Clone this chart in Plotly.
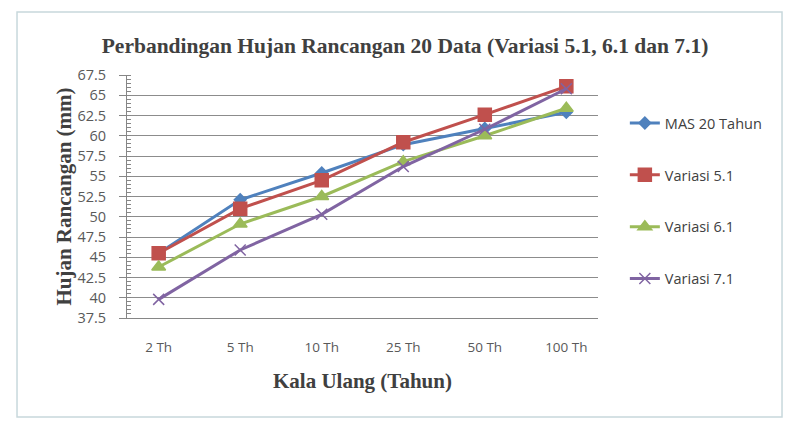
import plotly.graph_objects as go

categories = ["2 Th", "5 Th", "10 Th", "25 Th", "50 Th", "100 Th"]
mas_20 = [45.5, 52.1, 55.4, 58.9, 60.9, 62.9]
variasi_51 = [45.5, 51.0, 54.5, 59.2, 62.6, 66.1]
variasi_61 = [43.8, 49.1, 52.5, 56.8, 60.0, 63.4]
variasi_71 = [39.8, 45.9, 50.3, 56.2, 60.8, 65.8]
y_ticks = [37.5 + 2.5 * i for i in range(13)]

series = [
    ("MAS 20 Tahun", mas_20, "#4F81BD", "diamond", 9),
    ("Variasi 5.1", variasi_51, "#C0504D", "square", 13),
    ("Variasi 6.1", variasi_61, "#9BBB59", "triangle-up", 12),
    ("Variasi 7.1", variasi_71, "#8064A2", "x-thin-open", 11),
]

fig = go.Figure()
for name, vals, color, symbol, size in series:
    fig.add_trace(go.Scatter(
        x=categories, y=vals, name=name, mode="lines+markers",
        legendgroup=name,
        line=dict(color=color, width=3),
        marker=dict(symbol=symbol, size=size, color=color,
                    line=dict(color=color, width=1.5)),
    ))

serif = "Liberation Serif"
sans = "Open Sans"

fig.update_layout(
    width=785, height=421,
    margin=dict(l=127, r=187, t=75, b=103),
    paper_bgcolor="white", plot_bgcolor="white",
    title=dict(text="<b>Perbandingan Hujan Rancangan 20 Data (Variasi 5.1, 6.1 dan 7.1)</b>",
               x=0.516, xanchor="center", y=0.893, yanchor="middle",
               font=dict(family=serif, size=21.5, color="#404040")),
    legend=dict(x=1.057, y=0.868, xanchor="left", yanchor="top",
                font=dict(family=sans, size=14.5, color="#404040"),
                tracegroupgap=30, itemwidth=30),
    showlegend=True,
)
fig.update_xaxes(
    type="category", showgrid=False, automargin=False,
    showline=True, linecolor="#868686", linewidth=1,
    ticks="", ticklabelstandoff=17,
    tickfont=dict(family=sans, size=13.5, color="#595959"),
    title=dict(text="<b>Kala Ulang (Tahun)</b>", standoff=18,
               font=dict(family=serif, size=21, color="#404040")),
)
fig.update_yaxes(
    range=[37.5, 67.5], tickvals=y_ticks, automargin=False,
    ticktext=[("%g" % v) for v in y_ticks],
    showgrid=True, gridcolor="#8C8C8C", gridwidth=1,
    showline=True, linecolor="#868686", linewidth=1,
    ticks="outside", ticklen=7, tickcolor="#868686", ticklabelstandoff=10,
    minor=dict(ticks="inside", ticklen=4, tickcolor="#868686", dtick=0.5, showgrid=False),
    tickfont=dict(family=sans, size=14.5, color="#595959"),
    zeroline=False,
    title=dict(text="<b>Hujan Rancangan (mm)</b>", standoff=0,
               font=dict(family=serif, size=21, color="#404040")),
)

# outer chart border
fig.add_shape(type="rect", xref="paper", yref="paper",
              x0=-0.2335, x1=1.3907, y0=-0.407, y1=1.259,
              line=dict(color="#C8D8DC", width=1.5), layer="below")

fig.write_html("out.html", config={"displayModeBar": False},
               post_script="document.body.style.margin='0';")
